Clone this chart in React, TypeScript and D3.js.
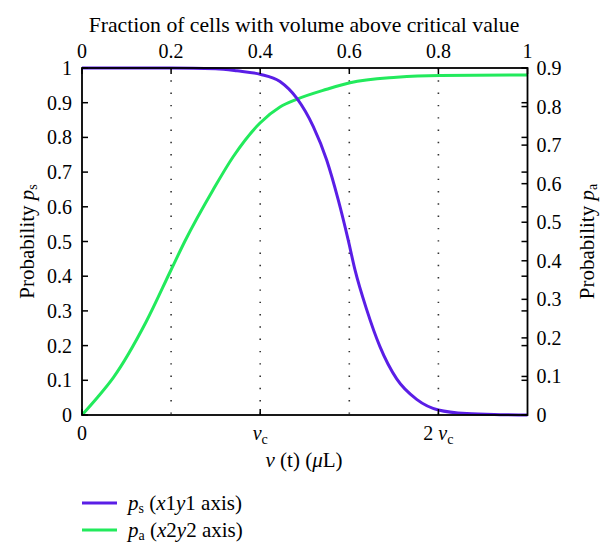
import React from "react";
import * as d3 from "d3";

// p_s vs v(t) in units of v_c (x1/y1 axes)
const vValues = [0, 0.5, 0.75, 0.87, 1.0, 1.111, 1.205, 1.298, 1.373, 1.438, 1.494, 1.532, 1.598, 1.672, 1.766, 1.878, 2.0, 2.159, 2.346, 2.5];
const psValues = [1, 1, 0.998, 0.992, 0.982, 0.961, 0.913, 0.831, 0.735, 0.62, 0.504, 0.418, 0.303, 0.197, 0.104, 0.045, 0.0144, 0.004, 0.001, 0];

// p_a vs fraction of cells (x2/y2 axes)
const fracValues = [0, 0.035, 0.0703, 0.1437, 0.1998, 0.2312, 0.2941, 0.3389, 0.3996, 0.4444, 0.4819, 0.5493, 0.6016, 0.7064, 0.8036, 1.0];
const paValues = [0, 0.046, 0.097, 0.2412, 0.3761, 0.4513, 0.5836, 0.6692, 0.7574, 0.7989, 0.8188, 0.8448, 0.8619, 0.8759, 0.8806, 0.8819];

const x1Ticks = [0, 1, 2];
const x1TickLabels = [["0", ""], ["", "v"], ["2 ", "v"]];
const x2Ticks = [0, 0.2, 0.4, 0.6, 0.8, 1];
const x2TickLabels = ["0", "0.2", "0.4", "0.6", "0.8", "1"];
const y1Ticks = [0, 0.1, 0.2, 0.3, 0.4, 0.5, 0.6, 0.7, 0.8, 0.9, 1];
const y1TickLabels = ["0", "0.1", "0.2", "0.3", "0.4", "0.5", "0.6", "0.7", "0.8", "0.9", "1"];
const y2Ticks = [0, 0.1, 0.2, 0.3, 0.4, 0.5, 0.6, 0.7, 0.8, 0.9];
const y2TickLabels = ["0", "0.1", "0.2", "0.3", "0.4", "0.5", "0.6", "0.7", "0.8", "0.9"];
const gridFractions = [0.2, 0.4, 0.6, 0.8];

const PURPLE = "#5a1ee6";
const GREEN = "#22ea5c";
const FONT = "Liberation Serif";
const ts = { fontFamily: FONT };

export default function App() {
  const L = 82, R = 527.5, T = 68, B = 415;
  const x1 = d3.scaleLinear().domain([0, 2.5]).range([L, R]);
  const x2 = d3.scaleLinear().domain([0, 1]).range([L, R]);
  const y1 = d3.scaleLinear().domain([0, 1]).range([B, T]);
  const y2 = d3.scaleLinear().domain([0, 0.9]).range([B, T]);

  const psLine = d3.line<number>().x((_, i) => x1(vValues[i])).y((d) => y1(d)).curve(d3.curveMonotoneX);
  const paLine = d3.line<number>().x((_, i) => x2(fracValues[i])).y((d) => y2(d)).curve(d3.curveMonotoneX);

  const tk = 6;
  const fs = 20;

  return (
    <svg width={610} height={560} style={{ position: "absolute", left: 0, top: 0, background: "#fff" }}>
      <rect x={0} y={0} width={610} height={560} fill="#fff" />
      {/* grid */}
      {gridFractions.map((g) => (
        <line key={"g" + g} x1={x2(g)} x2={x2(g)} y1={T} y2={B} stroke="#333" strokeWidth={1.6} strokeDasharray="1.4,10.9" />
      ))}
      {/* curves */}
      <path d={paLine(paValues) || ""} fill="none" stroke={GREEN} strokeWidth={3} />
      <path d={psLine(psValues) || ""} fill="none" stroke={PURPLE} strokeWidth={3} />
      {/* ticks */}
      {y1Ticks.map((t) => (
        <g key={"y1" + t}>
          <line x1={L} x2={L + tk} y1={y1(t)} y2={y1(t)} stroke="#000" strokeWidth={1.5} />
          <line x1={R} x2={R - tk} y1={y1(t)} y2={y1(t)} stroke="#000" strokeWidth={1.5} />
        </g>
      ))}
      {y2Ticks.map((t) => (
        <line key={"y2" + t} x1={R} x2={R - tk} y1={y2(t)} y2={y2(t)} stroke="#000" strokeWidth={1.5} />
      ))}
      {x2Ticks.map((t) => (
        <line key={"x2" + t} x1={x2(t)} x2={x2(t)} y1={T} y2={T + tk} stroke="#000" strokeWidth={1.5} />
      ))}
      {x1Ticks.map((t) => (
        <line key={"x1" + t} x1={x1(t)} x2={x1(t)} y1={B} y2={B - tk} stroke="#000" strokeWidth={1.5} />
      ))}
      {/* frame */}
      <rect x={L} y={T} width={R - L} height={B - T} fill="none" stroke="#000" strokeWidth={1.8} />
      {/* tick labels */}
      {y1Ticks.map((t, i) => (
        <text key={"l1" + t} style={ts} x={L - 10} y={y1(t) + 7} textAnchor="end" fontSize={fs}>{y1TickLabels[i]}</text>
      ))}
      {y2Ticks.map((t, i) => (
        <text key={"l2" + t} style={ts} x={R + 9} y={y2(t) + 7} textAnchor="start" fontSize={fs}>{y2TickLabels[i]}</text>
      ))}
      {x2Ticks.map((t, i) => (
        <text key={"lx2" + t} style={ts} x={x2(t)} y={T - 10} textAnchor="middle" fontSize={fs}>{x2TickLabels[i]}</text>
      ))}
      {x1Ticks.map((t, i) => (
        <text key={"lx1" + t} style={ts} x={x1(t)} y={B + 25} textAnchor="middle" fontSize={fs}>
          {x1TickLabels[i][0]}
          {x1TickLabels[i][1] && <tspan fontStyle="italic">{x1TickLabels[i][1]}</tspan>}
          {x1TickLabels[i][1] && <tspan fontSize={14} dy={4}>c</tspan>}
        </text>
      ))}
      {/* title & axis labels */}
      <text style={ts} x={304} y={32} textAnchor="middle" fontSize={21.7}>Fraction of cells with volume above critical value</text>
      <text style={ts} x={304} y={467} textAnchor="middle" fontSize={21}>
        <tspan fontStyle="italic">v</tspan> (t) (<tspan fontStyle="italic">μ</tspan>L)
      </text>
      <text style={ts} transform={`translate(34, ${(T + B) / 2}) rotate(-90)`} textAnchor="middle" fontSize={21}>
        Probability <tspan fontStyle="italic">p</tspan><tspan fontSize={14} dy={3}>s</tspan>
      </text>
      <text style={ts} transform={`translate(594, ${(T + B) / 2}) rotate(-90)`} textAnchor="middle" fontSize={21}>
        Probability <tspan fontStyle="italic">p</tspan><tspan fontSize={14} dy={3}>a</tspan>
      </text>
      {/* legend */}
      <line x1={82} x2={117} y1={503} y2={503} stroke={PURPLE} strokeWidth={3} />
      <text style={ts} x={128} y={510} fontSize={21}>
        <tspan fontStyle="italic">p</tspan><tspan fontSize={14} dy={3}>s</tspan><tspan dy={-3}> (</tspan><tspan fontStyle="italic">x</tspan>1<tspan fontStyle="italic">y</tspan>1 axis)
      </text>
      <line x1={82} x2={117} y1={530} y2={530} stroke={GREEN} strokeWidth={3} />
      <text style={ts} x={128} y={537} fontSize={21}>
        <tspan fontStyle="italic">p</tspan><tspan fontSize={14} dy={3}>a</tspan><tspan dy={-3}> (</tspan><tspan fontStyle="italic">x</tspan>2<tspan fontStyle="italic">y</tspan>2 axis)
      </text>
    </svg>
  );
}
